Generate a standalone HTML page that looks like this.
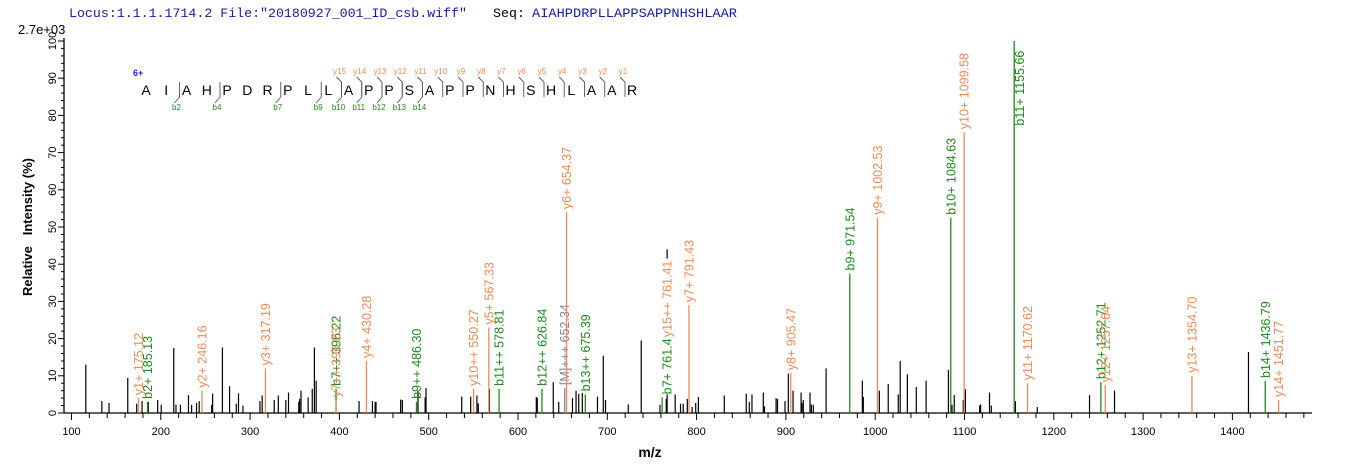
<!DOCTYPE html>
<html><head><meta charset="utf-8"><style>
html,body{margin:0;padding:0;background:#fff;}
svg{display:block;font-family:"Liberation Sans",Arial,sans-serif;}
</style></head><body>
<svg id="chart" width="1362" height="473" viewBox="0 0 1362 473" xmlns="http://www.w3.org/2000/svg">
<text x="69" y="17" font-family="Liberation Mono, monospace" font-size="13.3" fill="#1a1aa0" textLength="398" lengthAdjust="spacingAndGlyphs">Locus:1.1.1.1714.2 File:"20180927_001_ID_csb.wiff"</text>
<text x="493" y="17" font-family="Liberation Mono, monospace" font-size="13.3" fill="#000" textLength="32" lengthAdjust="spacingAndGlyphs">Seq:</text>
<text x="532" y="17" font-family="Liberation Mono, monospace" font-size="13.3" fill="#1a1aa0" textLength="205" lengthAdjust="spacingAndGlyphs">AIAHPDRPLLAPPSAPPNHSHLAAR</text>
<text x="18" y="34" font-size="13" fill="#000">2.7e+03</text>
<text transform="translate(32,227) rotate(-90)" text-anchor="middle" font-size="13" font-weight="bold" fill="#000" xml:space="preserve">Relative   Intensity (%)</text>
<text x="650" y="457" text-anchor="middle" font-size="14" font-weight="bold" fill="#000">m/z</text>
<g id="axes"></g><g id="peaks"></g><g id="ions"></g><g id="seq"></g>
</svg>
<script>
const blackMz=[116,134,142,163,173,179,186,196.5,200.5,214.5,217,222,231,234.5,240,243,257,258,269,277,284.5,287,292,311,313.5,327,331.6,340,343,354.5,355.5,357,365,369.6,372,374,422,437,440,441,468.6,470.5,488,496,497,537,547,554,555.5,568,620.5,621.6,639.5,645.6,661,665,668,672,689,695.5,698,723.5,738,759,766,767,776,782,785,789.6,795,799,802,831,855.6,859,862,874.7,876,889,890.6,899,902.7,908,917,918,919.5,927,928.5,930.7,945,985.6,986.7,1004.6,1014.6,1025.8,1028,1036,1046,1057,1082,1086,1088.5,1098.6,1101,1117,1118,1128,1130,1157,1181.5,1240,1268,1418];
const blackInt=[13,3.2,2.7,9.4,2.5,3.2,3,3.5,2.2,17.5,2.2,2.2,4.8,2.2,2.7,3.2,2.2,5.2,17.6,7.2,2.5,5.3,2,3.2,4.7,3.5,4.7,3.5,5.5,3,3.8,6,4.2,6.5,17.6,8.7,3.2,3.2,3,3,3.6,3.5,6,4.2,6.7,4.4,4.4,4.7,2.6,6.4,4.3,4,8.3,3,4,6,5.1,5.4,4.4,15.4,3.5,2.3,19.5,2.2,3.8,44,5,2.5,2.5,3.8,1.6,2.7,4.3,4.7,5.2,3,5,5.5,1.8,4,3.8,3.2,10.6,6,5.5,2.7,3.5,5.5,2.3,2.2,12,8.7,4.3,6,7.8,5,14,10.4,7,8.7,11.6,2.2,4.8,3.5,6.4,2,2.3,5.5,2,3.2,1.6,4.8,6,16.4];
const ionMz=[175.12,185.13,246.16,317.19,396.22,396.23,430.28,486.30,550.27,567.33,578.81,626.84,652.34,654.37,675.39,761.41,761.41,791.43,905.47,971.54,1002.53,1084.63,1099.58,1155.66,1170.62,1252.71,1257.64,1354.70,1436.79,1451.77];
const ionInt=[4,3,6,12,6.5,3.5,14,3,6.5,23,6.5,6.5,6.7,54,5,4.2,19.6,29,10.7,37.5,52.5,52.5,75.5,100,8,8.3,7.5,10,8.6,3.5];
const ionLabel=["y1+ 175.12","b2+ 185.13","y2+ 246.16","y3+ 317.19","b7++ 396.22","y7++ 396.23","y4+ 430.28","b9++ 486.30","y10++ 550.27","y5+ 567.33","b11++ 578.81","b12++ 626.84","[M]+++ 652.34","y6+ 654.37","b13++ 675.39","b7+ 761.41","y15++ 761.41","y7+ 791.43","y8+ 905.47","b9+ 971.54","y9+ 1002.53","b10+ 1084.63","y10+ 1099.58","b11+ 1155.66","y11+ 1170.62","b12+ 1252.71","y12+ 1257.64","y13+ 1354.70","b14+ 1436.79","y14+ 1451.77"];
const ionType=["y","b","y","y","b","y","y","b","y","y","b","b","m","y","b","b","y","y","y","b","y","b","y","b","y","b","y","y","b","y"];
const ionLine=[1,1,1,1,1,1,1,1,1,1,1,1,1,1,1,1,0,1,1,1,1,1,1,1,1,1,1,1,1,1];
const ionLabelMz=[175.12,185.13,246.16,317.19,396.22,396.23,430.28,486.30,550.27,567.33,578.81,626.84,652.34,654.37,675.39,767,767,791.43,905.47,971.54,1002.53,1084.63,1099.58,1155.66,1170.62,1252.71,1257.64,1354.70,1436.79,1451.77];
const xTicks=[100,200,300,400,500,600,700,800,900,1000,1100,1200,1300,1400];
const yTicks=[0,10,20,30,40,50,60,70,80,90,100];
const seqLetters=["A","I","A","H","P","D","R","P","L","L","A","P","P","S","A","P","P","N","H","S","H","L","A","A","R"];
const yIons=[15,14,13,12,11,10,9,8,7,6,5,4,3,2,1];
const bIons=[2,4,7,9,10,11,12,13,14];

const NS="http://www.w3.org/2000/svg";
const X0=64,X1=1312,Y0=413;
function xs(mz){return 71.5+(mz-100)*0.893;}
function ys(v){return Y0-v*3.72;}
function mk(tag,attrs,parent){const e=document.createElementNS(NS,tag);for(const k in attrs)e.setAttribute(k,attrs[k]);parent.appendChild(e);return e;}
const colors={y:"#ee8a55",b:"#1b8a1b",m:"#888888"};
const axes=document.getElementById('axes');
let l=mk('line',{x1:X0,y1:Y0,x2:X1,y2:Y0,stroke:'#000','stroke-width':1.3},axes);


l=mk('line',{x1:X0,y1:38,x2:X0,y2:Y0,stroke:'#000','stroke-width':1.3},axes);


for(let m=80;m<=1480;m+=20){const x=xs(m);if(x<X0||x>X1)continue;mk('line',{x1:x,y1:Y0,x2:x,y2:Y0+(m%100===0?7:5),stroke:'#000'},axes);}
xTicks.forEach(t=>{const e=mk('text',{x:xs(t),y:435,'text-anchor':'middle','font-size':11,fill:'#000'},axes);e.textContent=t;

});
for(let v=0;v<=100;v+=2){mk('line',{x1:X0-(v%10===0?6:3),y1:ys(v),x2:X0,y2:ys(v),stroke:'#000'},axes);}
yTicks.forEach(t=>{const e=mk('text',{transform:`translate(56,${ys(t)}) rotate(-90)`,'text-anchor':'middle','font-size':11,fill:'#000'},axes);e.textContent=t;

});
const pk=document.getElementById('peaks');
blackMz.forEach((m,i)=>{const e=mk('line',{x1:xs(m),y1:Y0,x2:xs(m),y2:ys(blackInt[i]),stroke:'#000','stroke-width':1.2},pk);

});
const io=document.getElementById('ions');
ionMz.forEach((m,i)=>{const x=xs(m),y=ys(ionInt[i]),c=colors[ionType[i]];
if(ionLine[i]){const e=mk('line',{x1:x,y1:Y0,x2:x,y2:y,stroke:c,'stroke-width':1.3},io);

}
const len=ionLabel[i].length*7.3;const shifted=ionLabelMz[i]!==m;
let lx=xs(ionLabelMz[i])+4.5,ly=y-3;
if(ly-len<38){lx=x+10;ly=38+len;}
const g=mk('g',{transform:`translate(${lx},${ly}) rotate(-90)`},io);
const r=shifted?mk('rect',{x:0,y:-10,width:0,height:11,fill:'#fff'},g):null;
const t=mk('text',{x:0,y:0,'font-size':12.5,fill:c},g);t.textContent=ionLabel[i];


if(r){r.setAttribute('width',t.getComputedTextLength()+2);}});
const sq=document.getElementById('seq');
const SX=146,SD=20.25,SY=95;
let t6=mk('text',{x:133,y:76,'font-size':9,'font-weight':'bold',fill:'#1a1ad0'},sq);t6.textContent='6+';


seqLetters.forEach((s,i)=>{const e=mk('text',{x:SX+i*SD,y:SY,'text-anchor':'middle','font-size':14,fill:'#000'},sq);e.textContent=s;

});
yIons.forEach(n=>{const idx=25-n,x=SX+idx*SD-7;
mk('path',{d:`M${x},${SY+2} L${x},${SY-13} L${x-5},${SY-18}`,stroke:'#555',fill:'none','stroke-width':0.9},sq);
const e=mk('text',{x:x-2,y:74,'text-anchor':'middle','font-size':8,fill:'#ee8a55'},sq);e.textContent='y'+n;

});
bIons.forEach(n=>{const x=SX+n*SD-7;
mk('path',{d:`M${x},${SY-13} L${x},${SY+2} L${x-5},${SY+8}`,stroke:'#555',fill:'none','stroke-width':0.9},sq);
const e=mk('text',{x:x-3,y:110,'text-anchor':'middle','font-size':8,fill:'#1b8a1b'},sq);e.textContent='b'+n;

});
</script>
</body></html>
